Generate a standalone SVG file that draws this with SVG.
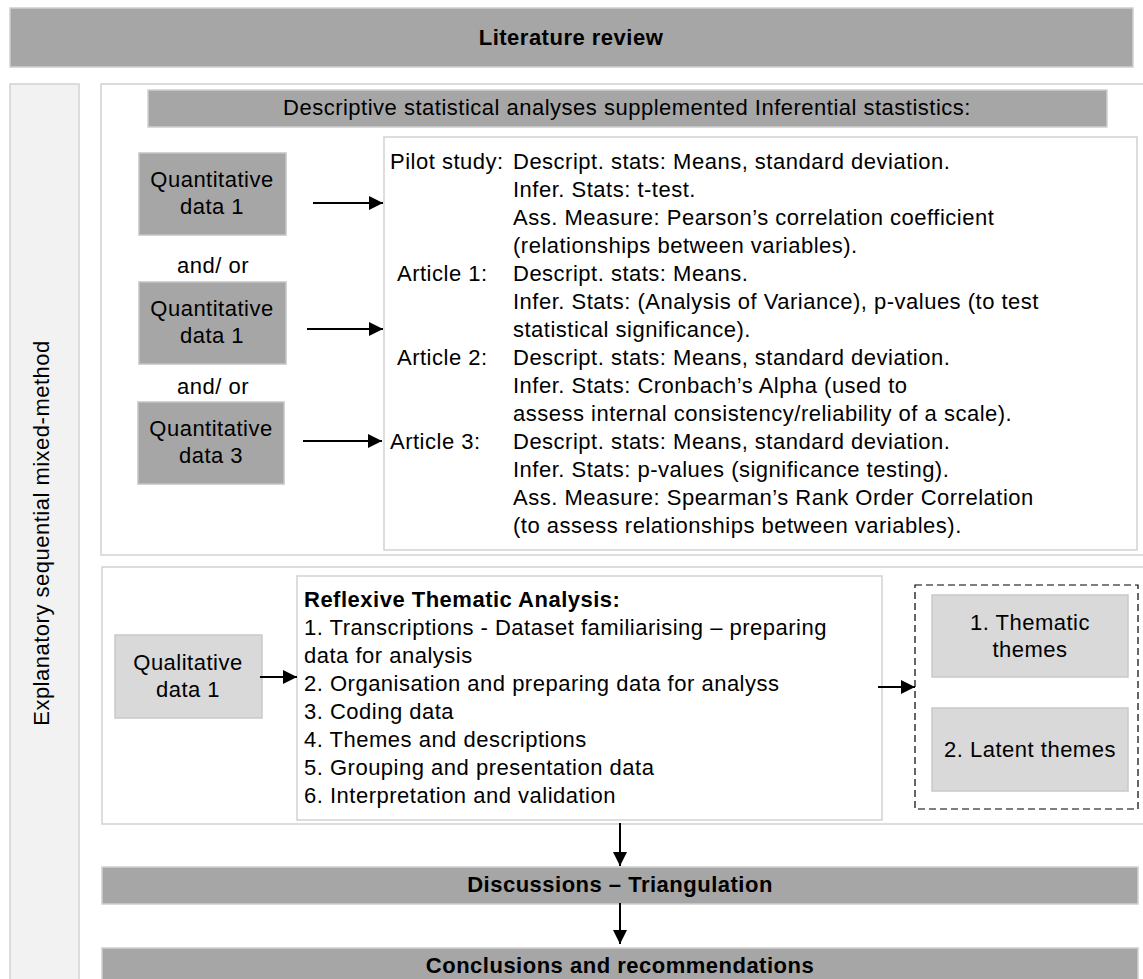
<svg xmlns="http://www.w3.org/2000/svg" width="1143" height="979" viewBox="0 0 1143 979">
  <style>
    text { font-family: "Liberation Sans", Arial, sans-serif; font-size: 22px; fill: #000; letter-spacing: 0.5px; }
    .b { font-weight: bold; }
    .c { text-anchor: middle; }
    .bar { fill: #a6a6a6; stroke: #cfcfcf; stroke-width: 1.5; }
    .dark { fill: #a6a6a6; stroke: #c4c4c4; stroke-width: 1.5; }
    .light { fill: #d9d9d9; stroke: #c9c9c9; stroke-width: 1.5; }
    .frame { fill: #ffffff; stroke: #d2d2d2; stroke-width: 1.5; }
    .side { fill: #f2f2f2; stroke: #d2d2d2; stroke-width: 1.5; }
    .dash { fill: none; stroke: #000; stroke-width: 1.2; stroke-dasharray: 7 4; }
    .arrow { stroke: #000; stroke-width: 2; fill: none; marker-end: url(#head); }
  </style>
  <defs>
    <marker id="head" viewBox="0 0 10 10" refX="10" refY="5" markerWidth="15" markerHeight="14" markerUnits="userSpaceOnUse" orient="auto">
      <path d="M0,0 L10,5 L0,10 z" fill="#000"/>
    </marker>
  </defs>

  <rect width="1143" height="979" fill="#ffffff"/>

  <!-- top banner -->
  <g id="literature-review">
    <rect class="bar" x="10" y="8" width="1123" height="59"/>
    <text class="b c" x="571" y="45">Literature review</text>
  </g>

  <!-- side label -->
  <g id="method-column">
    <rect class="side" x="10" y="84" width="69" height="900"/>
    <text class="c" transform="translate(49,533) rotate(-90)">Explanatory sequential mixed-method</text>
  </g>

  <!-- quantitative phase -->
  <g id="quant-section">
    <rect class="frame" x="101" y="84" width="1045" height="471"/>
  </g>
  <g id="descriptive-bar">
    <rect class="bar" x="148" y="90" width="959" height="37"/>
    <text class="c" x="627" y="115">Descriptive statistical analyses supplemented Inferential stastistics:</text>
  </g>
  <g id="quant-1">
    <rect class="dark" x="139" y="153" width="147" height="82"/>
    <text class="c" x="212" y="187">Quantitative</text>
    <text class="c" x="212" y="214">data 1</text>
  </g>
  <g id="and-or-1">
    <text class="c" x="213" y="273">and/ or</text>
  </g>
  <g id="quant-2">
    <rect class="dark" x="139" y="282" width="147" height="82"/>
    <text class="c" x="212" y="316">Quantitative</text>
    <text class="c" x="212" y="343">data 1</text>
  </g>
  <g id="and-or-2">
    <text class="c" x="213" y="394">and/ or</text>
  </g>
  <g id="quant-3">
    <rect class="dark" x="138" y="402" width="146" height="82"/>
    <text class="c" x="211" y="436">Quantitative</text>
    <text class="c" x="211" y="463">data 3</text>
  </g>
  <g id="stats-detail">
    <rect class="frame" x="384" y="137" width="753" height="413"/>
    <text x="390" y="169">Pilot study:</text>
    <text x="513" y="169">Descript. stats: Means, standard deviation.</text>
    <text x="513" y="197">Infer. Stats: t-test.</text>
    <text x="513" y="225">Ass. Measure: Pearson’s correlation coefficient</text>
    <text x="513" y="253">(relationships between variables).</text>
    <text x="397" y="281">Article 1:</text>
    <text x="513" y="281">Descript. stats: Means.</text>
    <text x="513" y="309">Infer. Stats: (Analysis of Variance), p-values (to test</text>
    <text x="513" y="337">statistical significance).</text>
    <text x="397" y="365">Article 2:</text>
    <text x="513" y="365">Descript. stats: Means, standard deviation.</text>
    <text x="513" y="393">Infer. Stats: Cronbach’s Alpha (used to</text>
    <text x="513" y="421">assess internal consistency/reliability of a scale).</text>
    <text x="390" y="449">Article 3:</text>
    <text x="513" y="449">Descript. stats: Means, standard deviation.</text>
    <text x="513" y="477">Infer. Stats: p-values (significance testing).</text>
    <text x="513" y="505">Ass. Measure: Spearman’s Rank Order Correlation</text>
    <text x="513" y="533">(to assess relationships between variables).</text>
  </g>

  <!-- qualitative phase -->
  <g id="qual-section">
    <rect class="frame" x="102" y="567" width="1044" height="257"/>
  </g>
  <g id="qual-1">
    <rect class="light" x="115" y="635" width="147" height="83"/>
    <text class="c" x="188" y="670">Qualitative</text>
    <text class="c" x="188" y="697">data 1</text>
  </g>
  <g id="thematic-analysis">
    <rect class="frame" x="297" y="576" width="585" height="244"/>
    <text class="b" x="304" y="607">Reflexive Thematic Analysis:</text>
    <text x="304" y="635">1. Transcriptions - Dataset familiarising – preparing</text>
    <text x="304" y="663">data for analysis</text>
    <text x="304" y="691">2. Organisation and preparing data for analyss</text>
    <text x="304" y="719">3. Coding data</text>
    <text x="304" y="747">4. Themes and descriptions</text>
    <text x="304" y="775">5. Grouping and presentation data</text>
    <text x="304" y="803">6. Interpretation and validation</text>
  </g>
  <g id="themes">
    <rect class="dash" x="915" y="585" width="223" height="224"/>
  </g>
  <g id="thematic-themes">
    <rect class="light" x="932" y="595" width="196" height="82"/>
    <text class="c" x="1030" y="630">1. Thematic</text>
    <text class="c" x="1030" y="657">themes</text>
  </g>
  <g id="latent-themes">
    <rect class="light" x="932" y="708" width="196" height="83"/>
    <text class="c" x="1030" y="757">2. Latent themes</text>
  </g>

  <!-- synthesis -->
  <g id="discussions">
    <rect class="bar" x="102" y="867" width="1036" height="37"/>
    <text class="b c" x="620" y="892">Discussions – Triangulation</text>
  </g>
  <g id="conclusions">
    <rect class="bar" x="102" y="948" width="1036" height="40"/>
    <text class="b c" x="620" y="973">Conclusions and recommendations</text>
  </g>

  <!-- connectors -->
  <g id="connectors">
    <line class="arrow" x1="313" y1="203" x2="383" y2="203"/>
    <line class="arrow" x1="307" y1="329" x2="383" y2="329"/>
    <line class="arrow" x1="303" y1="441" x2="382" y2="441"/>
    <line class="arrow" x1="260" y1="677" x2="297" y2="677"/>
    <line class="arrow" x1="878" y1="687" x2="915" y2="687"/>
    <line class="arrow" x1="620" y1="823" x2="620" y2="866"/>
    <line class="arrow" x1="620" y1="903" x2="620" y2="944"/>
  </g>
</svg>
